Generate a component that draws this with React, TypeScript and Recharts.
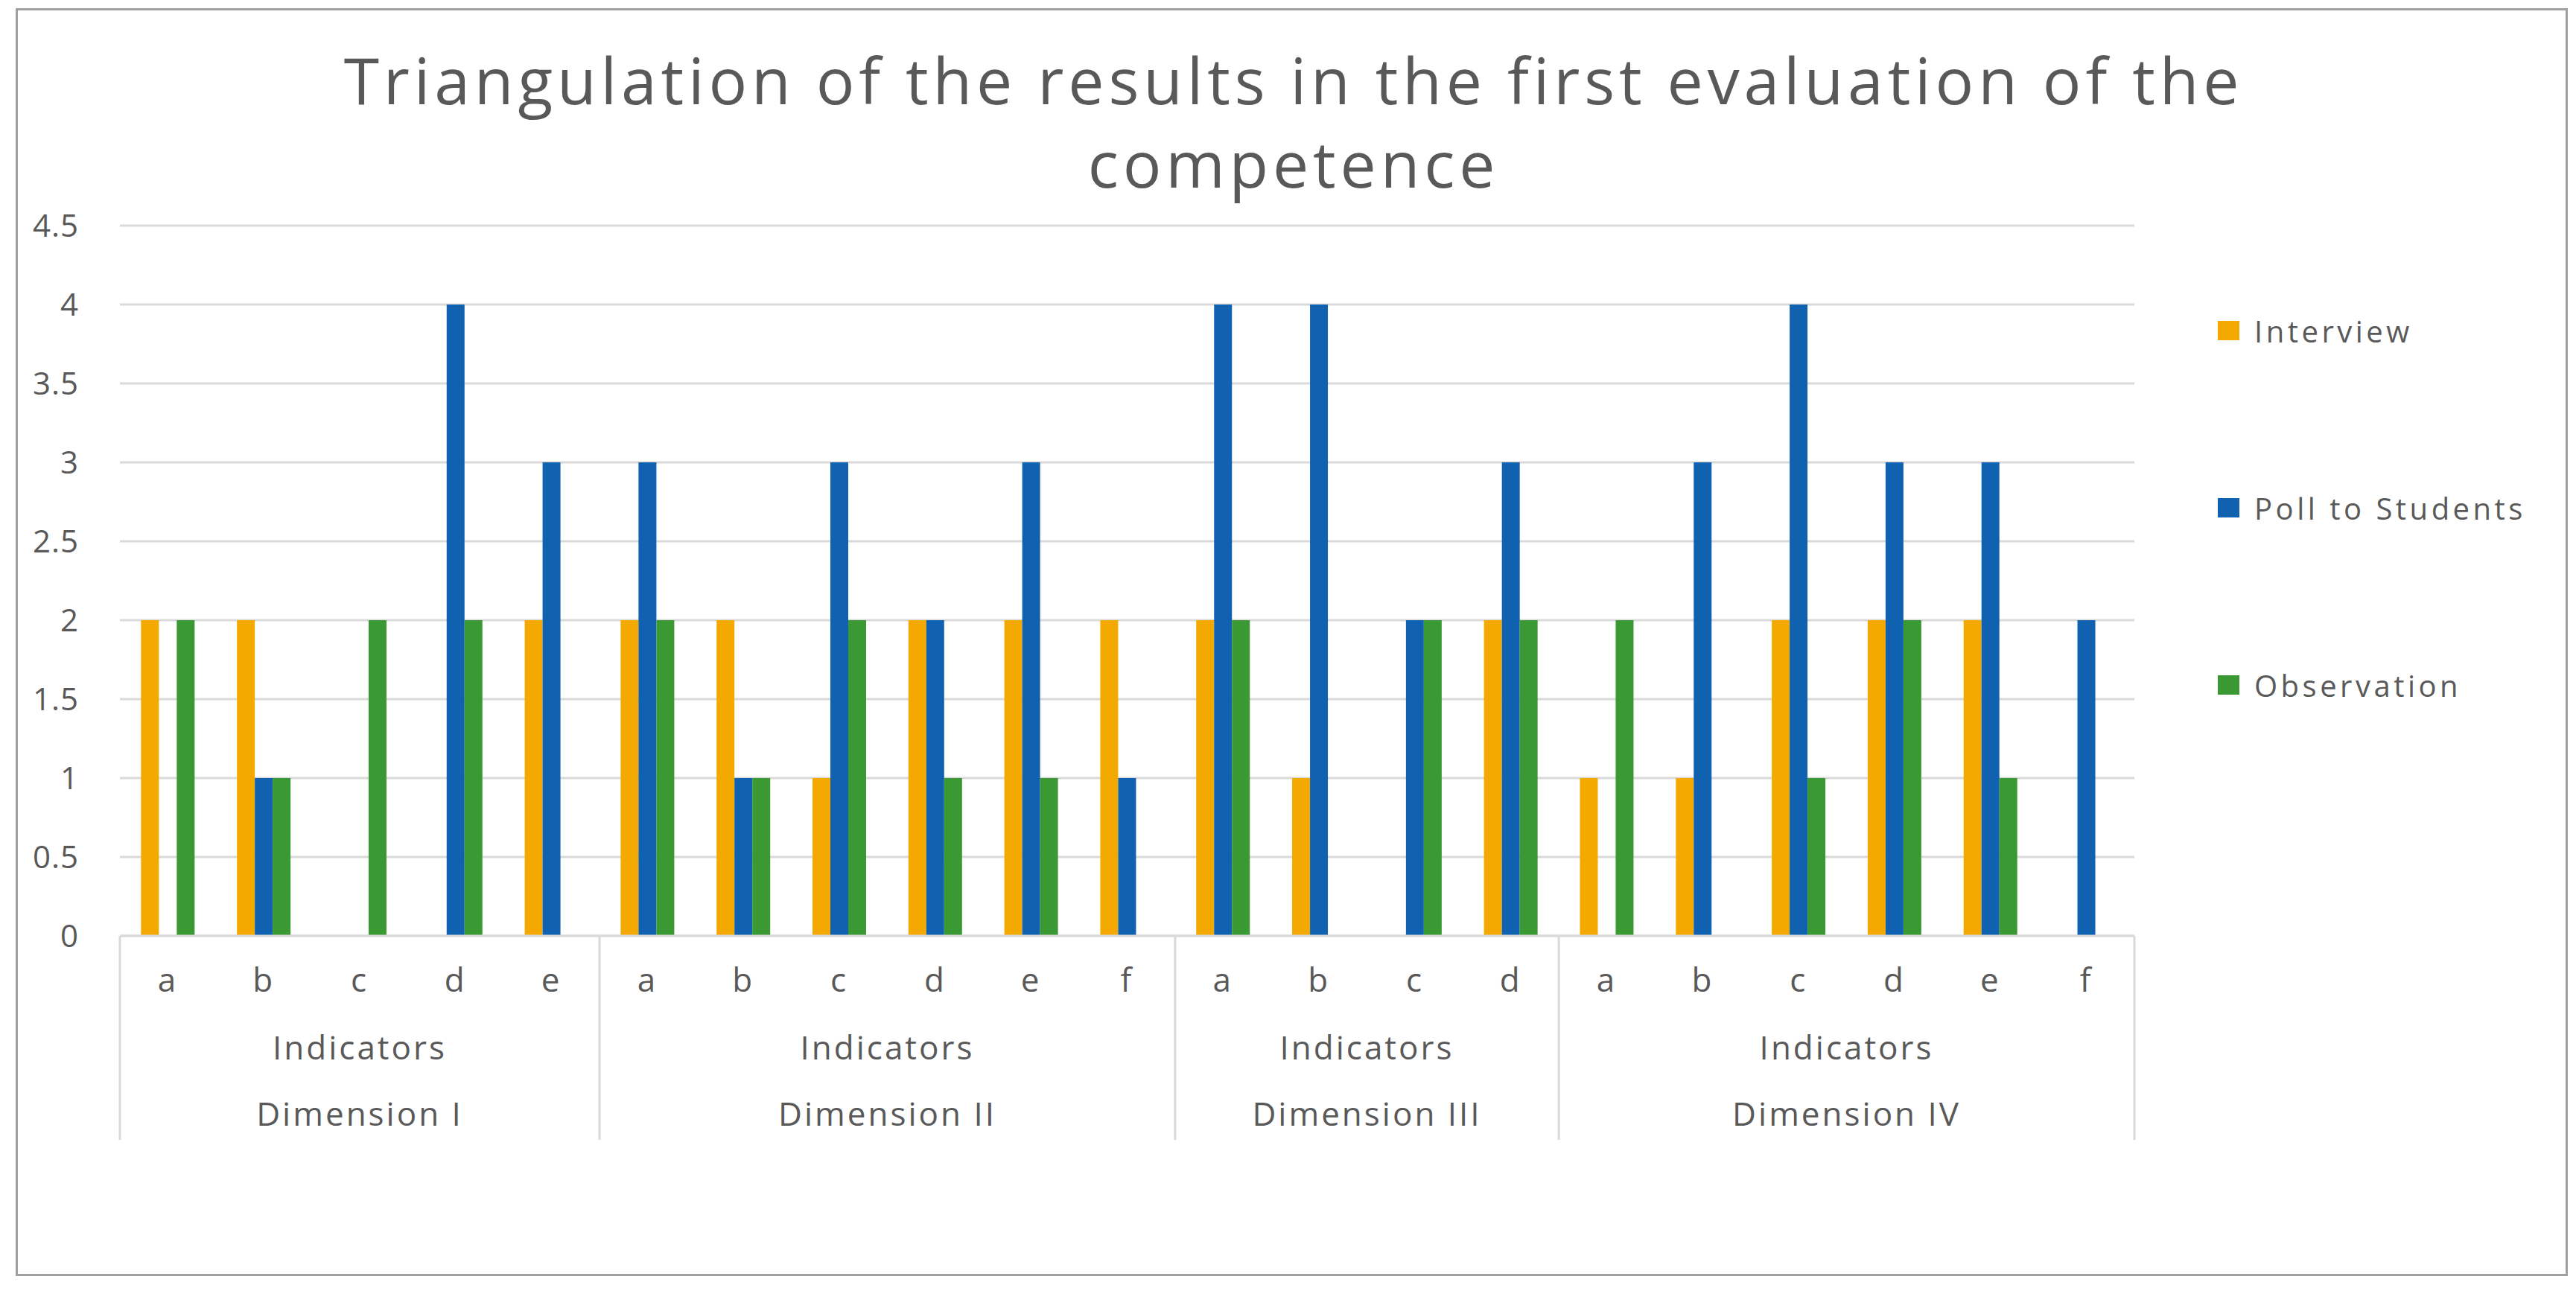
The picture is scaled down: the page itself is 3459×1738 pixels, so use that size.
import { BarChart, Bar, XAxis, YAxis, CartesianGrid, Legend } from 'recharts'

// indicators along the x axis, grouped by dimension
const indicators = ['a', 'b', 'c', 'd', 'e', 'a', 'b', 'c', 'd', 'e', 'f', 'a', 'b', 'c', 'd', 'a', 'b', 'c', 'd', 'e', 'f']
const dimensions = ['Dimension I', 'Dimension II', 'Dimension III', 'Dimension IV']
const groupSizes = [5, 6, 4, 6]

const seriesNames = ['Interview', 'Poll to Students', 'Observation']
const interview = [2, 2, 0, 0, 2, 2, 2, 1, 2, 2, 2, 2, 1, 0, 2, 1, 1, 2, 2, 2, 0]
const poll = [0, 1, 0, 4, 3, 3, 1, 3, 2, 3, 1, 4, 4, 2, 3, 0, 3, 4, 3, 3, 2]
const observation = [2, 1, 2, 2, 0, 2, 1, 2, 1, 1, 0, 2, 0, 2, 2, 2, 0, 1, 2, 1, 0]

const yTicks = [0, 0.5, 1, 1.5, 2, 2.5, 3, 3.5, 4, 4.5]

const data = indicators.map((indicator, i) => ({
  indicator,
  interview: interview[i],
  poll: poll[i],
  observation: observation[i],
}))

const FONT = '"Open Sans", sans-serif'
const TEXT = '#595959'
const GRID = '#D9D9D9'

const W = 3459
const H = 1738
const PLOT_LEFT = 161
const PLOT_RIGHT = 2866
const BAND = (PLOT_RIGHT - PLOT_LEFT) / indicators.length

// start index of each dimension group
const groupStarts: number[] = []
groupSizes.reduce((acc, n) => {
  groupStarts.push(acc)
  return acc + n
}, 0)

function IndicatorTick(props: any) {
  const { x, y, payload } = props
  const i = payload.index
  const g = groupStarts.indexOf(i)
  const textStyle = { fill: TEXT, fontSize: 44, fontFamily: FONT, letterSpacing: 3 }
  return (
    <g>
      <text x={x} y={y + 75} textAnchor="middle" style={textStyle}>
        {payload.value}
      </text>
      {g >= 0 && (
        <>
          <line x1={x - BAND / 2} x2={x - BAND / 2} y1={y} y2={y + 274} stroke={GRID} strokeWidth={3} />
          <text x={x - BAND / 2 + (groupSizes[g] * BAND) / 2} y={y + 166} textAnchor="middle" style={textStyle}>
            Indicators
          </text>
          <text x={x - BAND / 2 + (groupSizes[g] * BAND) / 2} y={y + 255} textAnchor="middle" style={textStyle}>
            {dimensions[g]}
          </text>
        </>
      )}
      {i === indicators.length - 1 && (
        <line x1={x + BAND / 2} x2={x + BAND / 2} y1={y} y2={y + 274} stroke={GRID} strokeWidth={3} />
      )}
    </g>
  )
}

function LegendList(props: any) {
  const payload = [...(props.payload || [])].sort(
    (a: any, b: any) => seriesNames.indexOf(a.value) - seriesNames.indexOf(b.value)
  )
  return (
    <div>
      {payload.map((entry: any, i: number) => (
        <div
          key={entry.value}
          style={{
            display: 'flex',
            alignItems: 'center',
            height: 40,
            marginBottom: i < payload.length - 1 ? 198 : 0,
          }}
        >
          <span style={{ display: 'inline-block', width: 29, height: 26, background: entry.color, marginRight: 20 }} />
          <span style={{ fontSize: 40, color: TEXT, letterSpacing: 4.5, fontFamily: FONT, whiteSpace: 'nowrap' }}>
            {entry.value}
          </span>
        </div>
      ))}
    </div>
  )
}

export default function App() {
  return (
    <div style={{ position: 'absolute', left: 0, top: 0, width: W, height: H, background: '#fff' }}>
      <div
        style={{
          position: 'absolute',
          left: 21,
          top: 11,
          width: 3448 - 21,
          height: 1714 - 11,
          border: '3px solid #A0A0A0',
          boxSizing: 'border-box',
        }}
      />
      <div
        style={{
          position: 'absolute',
          left: 3,
          top: 51,
          width: 3468,
          textAlign: 'center',
          fontFamily: FONT,
          fontSize: 86,
          lineHeight: '112px',
          letterSpacing: 5.8,
          color: TEXT,
        }}
      >
        Triangulation of the results in the first evaluation of the
        <br />
        competence
      </div>
      <div style={{ position: 'absolute', left: 0, top: 0 }}>
        <BarChart
          width={W}
          height={H}
          data={data}
          margin={{ top: 303, right: W - PLOT_RIGHT, bottom: 200, left: 0 }}
          barCategoryGap="22%"
          barGap={0}
        >
          <CartesianGrid vertical={false} stroke={GRID} strokeWidth={3} />
          <XAxis
            dataKey="indicator"
            interval={0}
            height={281}
            tickSize={0}
            tickMargin={0}
            tickLine={false}
            axisLine={{ stroke: GRID, strokeWidth: 3 }}
            tick={<IndicatorTick />}
          />
          <YAxis
            width={PLOT_LEFT}
            domain={[0, 4.5]}
            ticks={yTicks}
            axisLine={false}
            tickLine={false}
            tickSize={0}
            tickMargin={55}
            tick={{ fill: TEXT, fontSize: 42, fontFamily: FONT, letterSpacing: 1 }}
          />
          <Legend
            layout="vertical"
            align="center"
            verticalAlign="middle"
            content={<LegendList />}
            wrapperStyle={{ left: 2978, top: 424, width: 460 }}
          />
          <Bar dataKey="interview" name={seriesNames[0]} fill="#F4A900" isAnimationActive={false} />
          <Bar dataKey="poll" name={seriesNames[1]} fill="#1062B1" isAnimationActive={false} />
          <Bar dataKey="observation" name={seriesNames[2]} fill="#3A9932" isAnimationActive={false} />
        </BarChart>
      </div>
    </div>
  )
}
